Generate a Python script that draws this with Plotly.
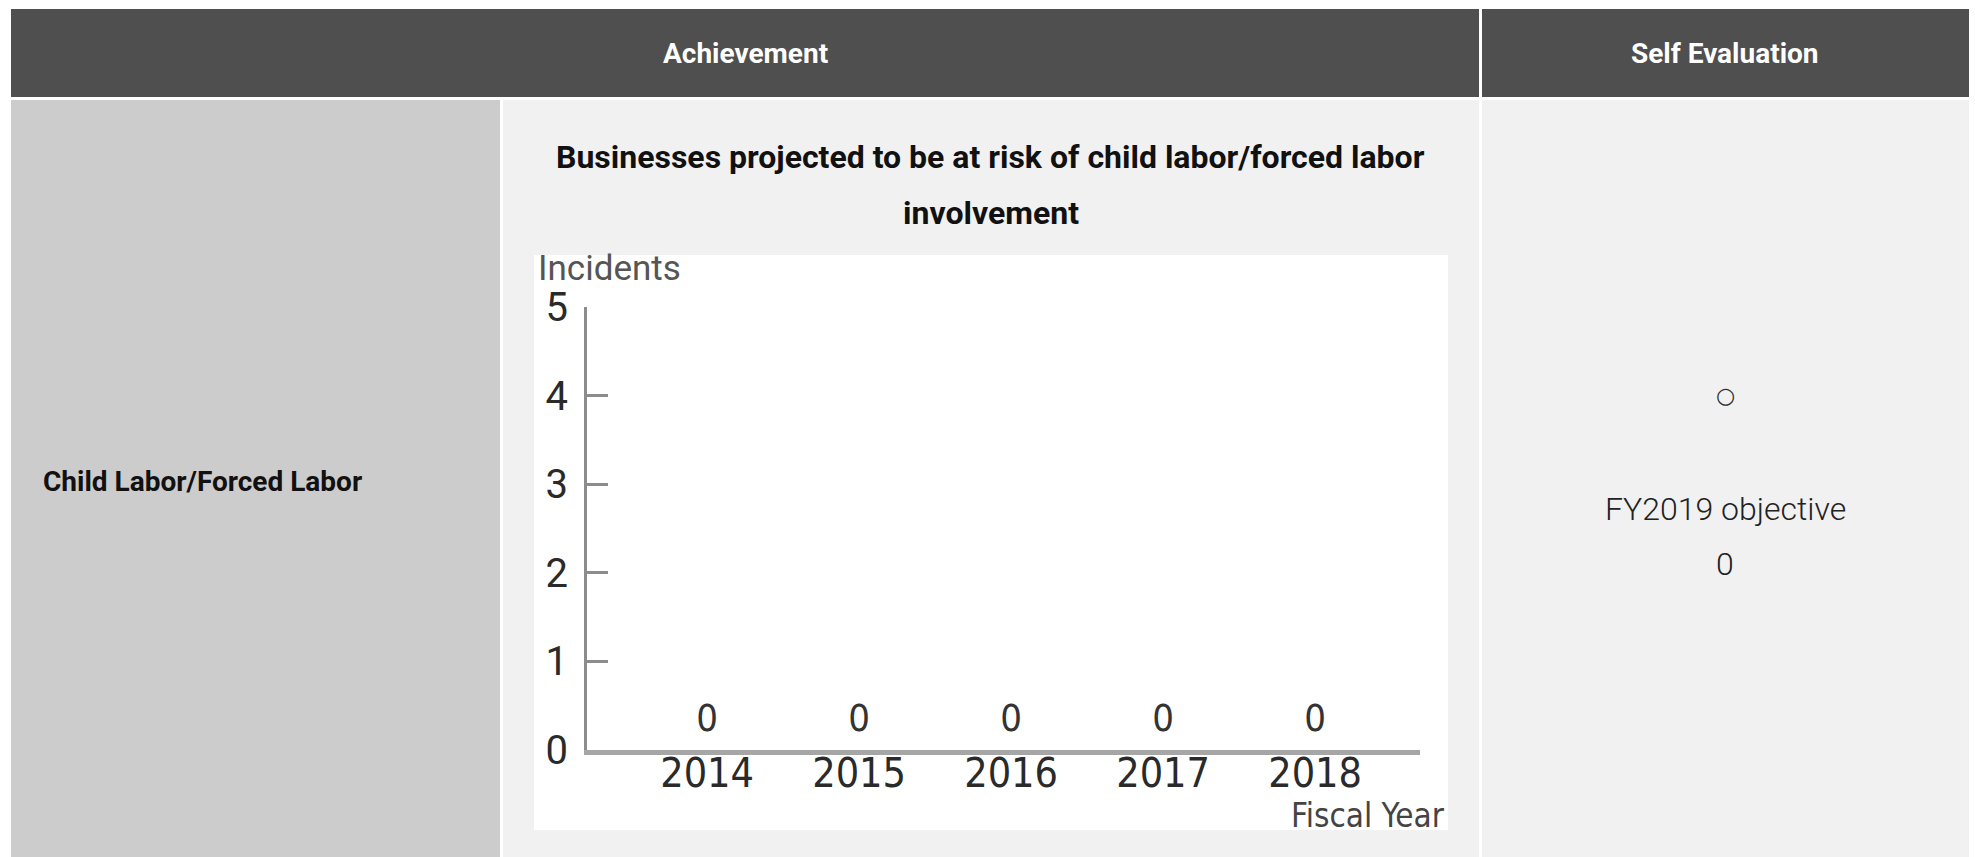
import plotly.graph_objects as go

W, H = 1975, 857

# data
fiscal_years = [2014, 2015, 2016, 2017, 2018]
incidents = [0, 0, 0, 0, 0]
y_ticks = [0, 1, 2, 3, 4, 5]

header_left = "Achievement"
header_right = "Self Evaluation"
row_label = "Child Labor/Forced Labor"
chart_title = ["Businesses projected to be at risk of child labor/forced labor", "involvement"]
evaluation = ["○", "FY2019 objective", "0"]

NARROW = "DejaVu Sans Condensed, Roboto, sans-serif"


def px(x):
    return x / W


def py(y):
    return 1 - y / H


shapes = []


def rect(x0, y0, x1, y1, color):
    shapes.append(dict(type="rect", xref="paper", yref="paper",
                       x0=px(x0), x1=px(x1), y0=py(y1), y1=py(y0),
                       fillcolor=color, line=dict(width=0), layer="below"))


# table cells
rect(11, 9, 1479, 97, "#4f4f4f")
rect(1482, 9, 1969, 97, "#4f4f4f")
rect(11, 100, 500, 857, "#cccccc")
rect(503, 100, 1479, 857, "#f1f1f1")
rect(1482, 100, 1969, 857, "#f1f1f1")
# chart panel
rect(534, 255, 1448, 830, "#ffffff")

annotations = []


def text(x, y, s, size, color="#000000", family="Roboto", weight="normal",
         xanchor="center"):
    annotations.append(dict(xref="paper", yref="paper", x=px(x), y=py(y), text=s,
                            showarrow=False, xanchor=xanchor, yanchor="middle",
                            font=dict(family=family, size=size, color=color,
                                      weight=weight)))


text(745, 53, header_left, 28, "#ffffff", weight="bold")
text(1725, 53, header_right, 28, "#ffffff", weight="bold")
text(41, 481, row_label, 28, "#111111", weight="bold", xanchor="left")
text(991, 157, chart_title[0], 32, "#111111", weight="bold")
text(991, 213, chart_title[1], 32, "#111111", weight="bold")
text(1725, 396, evaluation[0], 22, "#333333", family="DejaVu Sans")
text(1725, 509, evaluation[1], 32, "#222222", weight=300)
text(1725, 564, evaluation[2], 32, "#222222", weight=300)

# axis titles of the chart
text(536, 268, "Incidents", 35, "#555555", family="Roboto", xanchor="left")
text(1447, 815, "Fiscal Year", 33, "#444444", family=NARROW, xanchor="right")

fig = go.Figure()
fig.add_trace(go.Scatter(
    x=fiscal_years, y=incidents, mode="markers+text",
    text=[str(v) for v in incidents], textposition="top center",
    marker=dict(size=14, opacity=0),
    textfont=dict(family=NARROW, size=38, color="#333333"),
    hoverinfo="skip", showlegend=False, cliponaxis=False,
))

fig.update_layout(
    template="none",
    width=W, height=H, autosize=False,
    margin=dict(l=0, r=0, t=0, b=0, pad=0),
    paper_bgcolor="#ffffff", plot_bgcolor="rgba(0,0,0,0)",
    shapes=shapes, annotations=annotations,
    xaxis=dict(domain=[px(587), px(1420)], range=[2013.21, 2018.69],
               tickvals=fiscal_years, ticktext=[str(v) for v in fiscal_years],
               showgrid=False, zeroline=False, showline=True, automargin=False,
               linecolor="#a6a6a6", linewidth=5, ticks="", ticklabelstandoff=-17,
               tickfont=dict(family=NARROW, size=41, color="#2a2a2a"),
               fixedrange=True),
    yaxis=dict(domain=[py(750), py(307)], range=[0, 5], tickvals=y_ticks,
               showgrid=False, zeroline=False, showline=True, automargin=False,
               linecolor="#8c8c8c", linewidth=3, ticks="inside", ticklen=21,
               tickwidth=3, tickcolor="#8c8c8c", ticklabelstandoff=8,
               tickfont=dict(family="Roboto", size=40, color="#2a2a2a"),
               fixedrange=True),
)

fig.write_html("out.html")
